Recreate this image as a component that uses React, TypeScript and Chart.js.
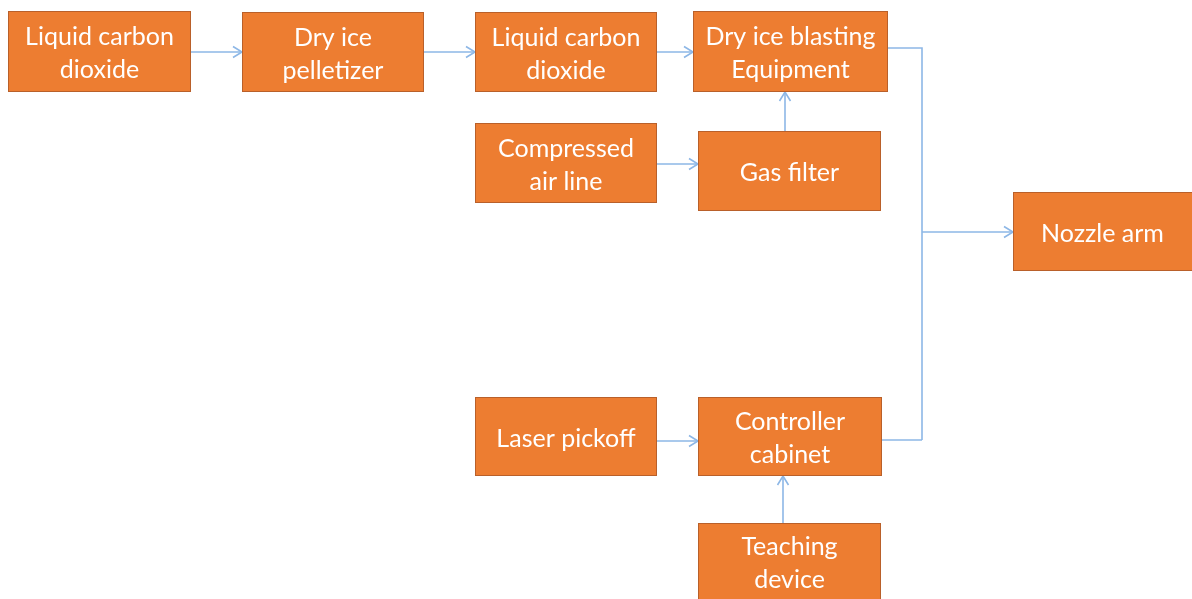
import React, { useEffect, useRef } from "react";
import { Chart, registerables } from "chart.js";

Chart.register(...registerables);

// Nodes (data units on a 1192 x 599 canvas-like scale)
const nodeLabels: string[][] = [
  ["Liquid carbon", "dioxide"],
  ["Dry ice", "pelletizer"],
  ["Liquid carbon", "dioxide"],
  ["Dry ice blasting", "Equipment"],
  ["Compressed", "air line"],
  ["Gas filter"],
  ["Nozzle arm"],
  ["Laser pickoff"],
  ["Controller", "cabinet"],
  ["Teaching", "device"],
];
const nodeLeft = [8, 242, 475, 693, 475, 698, 1013, 475, 698, 698];
const nodeTop = [11, 12, 12, 11, 123, 131, 192, 397, 397, 523];
const nodeRight = [191, 424, 657, 888, 657, 881, 1196, 657, 882, 881];
const nodeBottom = [92, 92, 92, 92, 203, 211, 271, 476, 476, 610];

// Connectors: polylines, arrow head at end when flagged
const edgePoints: number[][][] = [
  [[191, 52], [242, 52]],
  [[424, 52], [475, 52]],
  [[657, 52], [693, 52]],
  [[657, 164], [698, 164]],
  [[785, 131], [785, 92]],
  [[888, 48], [922, 48], [922, 440]],
  [[882, 440], [922, 440]],
  [[922, 232], [1013, 232]],
  [[657, 441], [698, 441]],
  [[783, 523], [783, 476]],
];
const edgeArrow = [true, true, true, true, true, false, false, true, true, true];

const flowPlugin = {
  id: "flow",
  afterDraw(chart: any) {
    const ctx = chart.ctx as CanvasRenderingContext2D;
    const xs = chart.scales.x;
    const ys = chart.scales.y;
    const px = (v: number) => xs.getPixelForValue(v);
    const py = (v: number) => ys.getPixelForValue(v);
    ctx.save();
    // edges
    ctx.strokeStyle = "#8DB7E6";
    ctx.lineWidth = 1.6;
    edgePoints.forEach((pts, i) => {
      ctx.beginPath();
      pts.forEach((p, j) => {
        const X = px(p[0]);
        const Y = py(p[1]);
        if (j === 0) ctx.moveTo(X, Y);
        else ctx.lineTo(X, Y);
      });
      ctx.stroke();
      if (edgeArrow[i]) {
        const a = pts[pts.length - 2];
        const b = pts[pts.length - 1];
        const ax = px(a[0]), ay = py(a[1]);
        const bx = px(b[0]), by = py(b[1]);
        const ang = Math.atan2(by - ay, bx - ax);
        const L = 9, H = 5.5;
        ctx.beginPath();
        ctx.moveTo(bx - L * Math.cos(ang) - H * Math.sin(ang), by - L * Math.sin(ang) + H * Math.cos(ang));
        ctx.lineTo(bx, by);
        ctx.lineTo(bx - L * Math.cos(ang) + H * Math.sin(ang), by - L * Math.sin(ang) - H * Math.cos(ang));
        ctx.stroke();
      }
    });
    // nodes
    nodeLabels.forEach((lines, i) => {
      const x0 = px(nodeLeft[i]);
      const x1 = px(nodeRight[i]);
      const y0 = py(nodeTop[i]);
      const y1 = py(nodeBottom[i]);
      ctx.fillStyle = "#ED7D31";
      ctx.fillRect(x0, y0, x1 - x0, y1 - y0);
      ctx.strokeStyle = "#B9602A";
      ctx.lineWidth = 1;
      ctx.strokeRect(x0 + 0.5, y0 + 0.5, x1 - x0 - 1, y1 - y0 - 1);
      ctx.fillStyle = "#FFFFFF";
      ctx.font = "25px Lato, 'Open Sans', sans-serif";
      ctx.textAlign = "center";
      ctx.textBaseline = "middle";
      const cx = (px(nodeLeft[i]) + px(Math.min(nodeRight[i], 1192))) / 2;
      const cy = (y0 + py(Math.min(nodeBottom[i], 599))) / 2 + 2;
      const lh = 33;
      lines.forEach((t, k) => {
        const yy = cy + (k - (lines.length - 1) / 2) * lh;
        ctx.fillText(t, cx, yy);
      });
    });
    ctx.restore();
  },
};

export default function App() {
  const ref = useRef<HTMLCanvasElement | null>(null);
  useEffect(() => {
    document.body.style.margin = "0";
    if (!ref.current) return;
    const chart = new Chart(ref.current, {
      type: "scatter",
      data: { datasets: [{ data: [], showLine: false }] },
      options: {
        animation: false,
        responsive: false,
        maintainAspectRatio: false,
        layout: { padding: 0 },
        plugins: { legend: { display: false }, tooltip: { enabled: false } },
        scales: {
          x: { type: "linear", min: 0, max: 1192, display: false },
          y: { type: "linear", min: 0, max: 599, reverse: true, display: false },
        },
      },
      plugins: [flowPlugin],
    });
    return () => chart.destroy();
  }, []);
  return (
    <div style={{ width: 1192, height: 599, background: "#fff" }}>
      <canvas ref={ref} width={1192} height={599} style={{ display: "block" }} />
    </div>
  );
}
